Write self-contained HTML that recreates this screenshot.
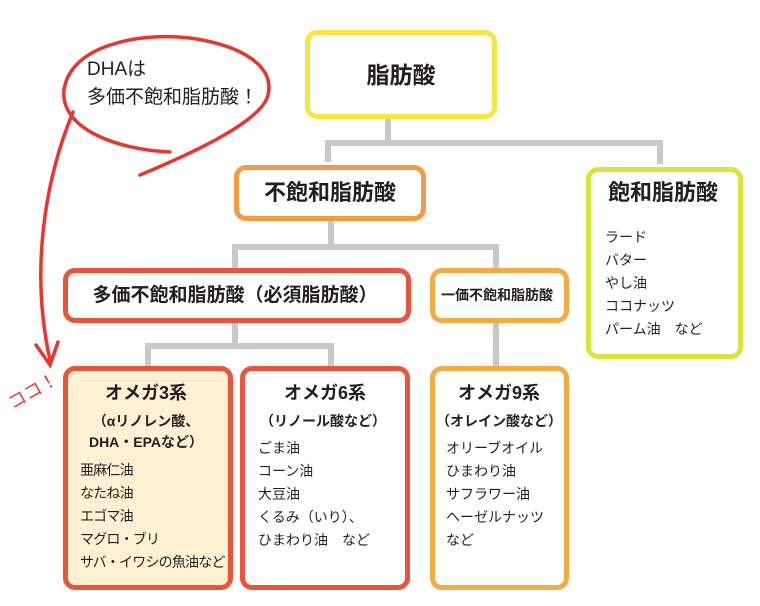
<!DOCTYPE html>
<html><head><meta charset="utf-8">
<style>
body{margin:0;width:760px;height:606px;background:#fff;position:relative;overflow:hidden;font-family:"Liberation Sans","Noto Sans CJK JP",sans-serif;color:#231f20}
.b{position:absolute;box-sizing:border-box;border-radius:12px;border:5px solid}
.t{position:absolute;white-space:nowrap;line-height:1}
.c{transform:translateX(-50%)}
.bd{font-weight:bold}
.l{position:absolute;font-size:14px;line-height:23px;white-space:nowrap}
</style></head><body>
<svg width="760" height="606" style="position:absolute;left:0;top:0">
<g stroke="#c8c9cb" stroke-width="6" fill="none">
<path d="M388 119V143M328 162V143H660V164"/>
<path d="M331 220V247M235 268V247H496V268"/>
<path d="M235 322V346M148 366V346H331V366"/>
<path d="M496 322V368"/>
</g>
<g stroke="#e8352e" stroke-width="3.5" fill="none" stroke-linecap="round">
<path d="M170 152 C 120 150, 60 130, 64 90 C 70 45, 140 32, 190 38 C 240 45, 275 65, 268 95 C 262 120, 200 150, 140 175"/>
<path d="M73 112 C 45 180, 30 270, 50 360"/>
<path d="M36 345 L50 365 L58 342"/>
</g>
</svg>
<div class="b" style="left:305px;top:30px;width:192px;height:89px;border-color:#f7e545"></div>
<div class="b" style="left:234px;top:165px;width:192px;height:56px;border-color:#f29b42"></div>
<div class="b" style="left:586px;top:167px;width:157px;height:192px;border-color:#dde33c"></div>
<div class="b" style="left:63px;top:268px;width:348px;height:55px;border-color:#e9553a"></div>
<div class="b" style="left:430px;top:268px;width:139px;height:55px;border-color:#f5aa45"></div>
<div class="b" style="left:63px;top:366px;width:170px;height:224px;border-color:#e9553a;background:#fdf0d3"></div>
<div class="b" style="left:240px;top:366px;width:170px;height:224px;border-color:#e9553a"></div>
<div class="b" style="left:430px;top:366px;width:139px;height:224px;border-color:#f5aa45"></div>

<div class="t" style="left:87px;top:60px;font-size:19px">DHAは</div>
<div class="t" style="left:87px;top:88px;font-size:19px">多価不飽和脂肪酸！</div>
<div class="t" style="left:6px;top:382px;font-size:18px;color:#e8352e;transform:rotate(-30deg)">ココ！</div>

<div class="t bd c" style="left:401px;top:64px;font-size:23px">脂肪酸</div>
<div class="t bd c" style="left:330px;top:182px;font-size:22px">不飽和脂肪酸</div>
<div class="t bd c" style="left:663px;top:182px;font-size:22px">飽和脂肪酸</div>
<div class="l" style="left:605px;top:226px">ラード<br>バター<br>やし油<br>ココナッツ<br>パーム油　など</div>
<div class="t bd c" style="left:235px;top:286px;font-size:19px">多価不飽和脂肪酸（必須脂肪酸）</div>
<div class="t bd c" style="left:497px;top:288px;font-size:14px">一価不飽和脂肪酸</div>

<div class="t bd c" style="left:146px;top:384px;font-size:18px">オメガ3系</div>
<div class="t bd c" style="left:146px;top:411px;font-size:14px;line-height:21px;text-align:center">（αリノレン酸、<br>DHA・EPAなど）</div>
<div class="l" style="left:80px;top:459px;letter-spacing:-0.8px">亜麻仁油<br>なたね油<br>エゴマ油<br>マグロ・ブリ<br>サバ・イワシの魚油など</div>

<div class="t bd c" style="left:325px;top:384px;font-size:18px">オメガ6系</div>
<div class="t bd c" style="left:323px;top:414px;font-size:14px">（リノール酸など）</div>
<div class="l" style="left:258px;top:437px">ごま油<br>コーン油<br>大豆油<br>くるみ（いり）、<br>ひまわり油　など</div>

<div class="t bd c" style="left:499px;top:384px;font-size:18px">オメガ9系</div>
<div class="t bd c" style="left:499px;top:414px;font-size:14px">（オレイン酸など）</div>
<div class="l" style="left:446px;top:437px">オリーブオイル<br>ひまわり油<br>サフラワー油<br>ヘーゼルナッツ<br>など</div>
</body></html>
